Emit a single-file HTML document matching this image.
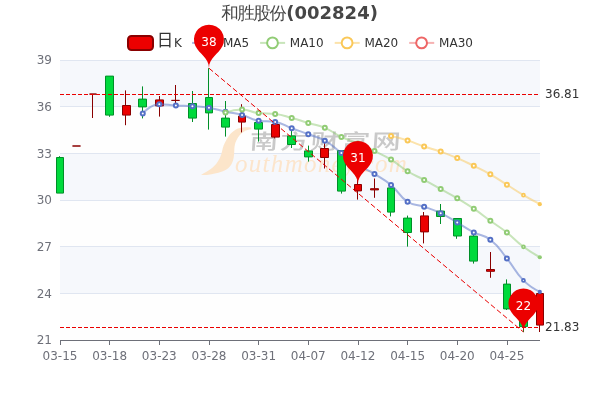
<!DOCTYPE html>
<html lang="zh-CN"><head><meta charset="utf-8"><title>和胜股份(002824)</title>
<style>html,body{margin:0;padding:0;background:#fff}body{width:600px;height:400px;overflow:hidden;position:relative}</style></head>
<body>
<svg width="600" height="400" viewBox="0 0 600 400" style="position:absolute;left:0;top:0;display:block">
<defs><clipPath id="g"><rect x="59" y="59" width="482" height="282"/></clipPath></defs>
<rect width="600" height="400" fill="#fff"/>
<rect x="60" y="60.00" width="480" height="46.67" fill="#f6f8fc"/>
<rect x="60" y="106.67" width="480" height="46.67" fill="#fefefe"/>
<rect x="60" y="153.33" width="480" height="46.67" fill="#f6f8fc"/>
<rect x="60" y="200.00" width="480" height="46.67" fill="#fefefe"/>
<rect x="60" y="246.67" width="480" height="46.67" fill="#f6f8fc"/>
<rect x="60" y="293.33" width="480" height="46.67" fill="#fefefe"/>
<path d="M60 60.5H540" stroke="#E0E6F1" stroke-width="1" fill="none"/>
<path d="M60 106.5H540" stroke="#E0E6F1" stroke-width="1" fill="none"/>
<path d="M60 153.5H540" stroke="#E0E6F1" stroke-width="1" fill="none"/>
<path d="M60 200.5H540" stroke="#E0E6F1" stroke-width="1" fill="none"/>
<path d="M60 246.5H540" stroke="#E0E6F1" stroke-width="1" fill="none"/>
<path d="M60 293.5H540" stroke="#E0E6F1" stroke-width="1" fill="none"/>
<g id="wm">
<path d="M201 174.9C205 172.6 207.5 171.2 210 169.5C213.5 167 215.8 164.6 217.5 162C219.3 159.3 220.4 157 221.2 154.5C221.9 152.3 222.2 150.5 222.7 148.5C223.2 146.4 223.9 144.6 225 142.5C226.2 140 227.6 137.5 229.5 135C231.2 132.9 233 131.2 235.5 129.7C237.8 128.4 240 127.8 243 127.5C245.5 127.3 248 127.3 251.2 127.5L251.2 129.3C248.5 129.7 246.5 130.2 244.5 131.2C242.4 132.3 240.7 133.8 239.2 135.7C237.7 137.7 236.4 139.9 235.5 142.5C234.7 144.9 234.4 147.3 234.3 150C234.2 152.6 234.2 155 233.7 157.5C233.2 160.2 232.4 162.7 231 165C229.6 167.2 227.6 168.9 225 170.2C222.2 171.6 219.3 172.5 216 173.2C213 173.9 210 174.5 207 174.9C205 175.1 203 175.1 201 174.9Z" fill="#fce5ca"/>
<text transform="translate(248.9,149.3) scale(1,0.72) skewX(-3)" font-family="'Noto Sans CJK SC','WenQuanYi Zen Hei',sans-serif" font-weight="500" font-size="29" letter-spacing="1.6" fill="#c9c9c9">南方财富网</text>
<text x="235" y="171.6" font-family="'Liberation Serif',serif" font-style="italic" font-size="25" letter-spacing="1.3" fill="#fce5cc">outhmoney.com</text>
</g>

<path d="M60 340.5H540" stroke="#6E7079" stroke-width="1" fill="none"/>
<path d="M60.5 340V345" stroke="#6E7079" stroke-width="1" fill="none"/>
<text x="60.00" y="359.6" text-anchor="middle" font-family="'DejaVu Sans','Liberation Sans',sans-serif" font-size="12" fill="#6E7079">03-15</text>
<path d="M109.5 340V345" stroke="#6E7079" stroke-width="1" fill="none"/>
<text x="109.66" y="359.6" text-anchor="middle" font-family="'DejaVu Sans','Liberation Sans',sans-serif" font-size="12" fill="#6E7079">03-18</text>
<path d="M159.5 340V345" stroke="#6E7079" stroke-width="1" fill="none"/>
<text x="159.31" y="359.6" text-anchor="middle" font-family="'DejaVu Sans','Liberation Sans',sans-serif" font-size="12" fill="#6E7079">03-23</text>
<path d="M209.5 340V345" stroke="#6E7079" stroke-width="1" fill="none"/>
<text x="208.97" y="359.6" text-anchor="middle" font-family="'DejaVu Sans','Liberation Sans',sans-serif" font-size="12" fill="#6E7079">03-28</text>
<path d="M258.5 340V345" stroke="#6E7079" stroke-width="1" fill="none"/>
<text x="258.62" y="359.6" text-anchor="middle" font-family="'DejaVu Sans','Liberation Sans',sans-serif" font-size="12" fill="#6E7079">03-31</text>
<path d="M308.5 340V345" stroke="#6E7079" stroke-width="1" fill="none"/>
<text x="308.28" y="359.6" text-anchor="middle" font-family="'DejaVu Sans','Liberation Sans',sans-serif" font-size="12" fill="#6E7079">04-07</text>
<path d="M358.5 340V345" stroke="#6E7079" stroke-width="1" fill="none"/>
<text x="357.93" y="359.6" text-anchor="middle" font-family="'DejaVu Sans','Liberation Sans',sans-serif" font-size="12" fill="#6E7079">04-12</text>
<path d="M407.5 340V345" stroke="#6E7079" stroke-width="1" fill="none"/>
<text x="407.59" y="359.6" text-anchor="middle" font-family="'DejaVu Sans','Liberation Sans',sans-serif" font-size="12" fill="#6E7079">04-15</text>
<path d="M457.5 340V345" stroke="#6E7079" stroke-width="1" fill="none"/>
<text x="457.24" y="359.6" text-anchor="middle" font-family="'DejaVu Sans','Liberation Sans',sans-serif" font-size="12" fill="#6E7079">04-20</text>
<path d="M507.5 340V345" stroke="#6E7079" stroke-width="1" fill="none"/>
<text x="506.90" y="359.6" text-anchor="middle" font-family="'DejaVu Sans','Liberation Sans',sans-serif" font-size="12" fill="#6E7079">04-25</text>
<text x="52" y="64.40" text-anchor="end" font-family="'DejaVu Sans','Liberation Sans',sans-serif" font-size="12" fill="#6E7079">39</text>
<text x="52" y="111.07" text-anchor="end" font-family="'DejaVu Sans','Liberation Sans',sans-serif" font-size="12" fill="#6E7079">36</text>
<text x="52" y="157.73" text-anchor="end" font-family="'DejaVu Sans','Liberation Sans',sans-serif" font-size="12" fill="#6E7079">33</text>
<text x="52" y="204.40" text-anchor="end" font-family="'DejaVu Sans','Liberation Sans',sans-serif" font-size="12" fill="#6E7079">30</text>
<text x="52" y="251.07" text-anchor="end" font-family="'DejaVu Sans','Liberation Sans',sans-serif" font-size="12" fill="#6E7079">27</text>
<text x="52" y="297.73" text-anchor="end" font-family="'DejaVu Sans','Liberation Sans',sans-serif" font-size="12" fill="#6E7079">24</text>
<text x="52" y="344.40" text-anchor="end" font-family="'DejaVu Sans','Liberation Sans',sans-serif" font-size="12" fill="#6E7079">21</text>
<path d="M56.5 157.50H63.5V193.10H56.5ZM59.5 156.20V157.50M59.5 193.10V193.10" fill="#00da3c" stroke="#008F28" stroke-width="1"/>
<path d="M72.5 146.00H80.5V146.00H72.5ZM76.5 146.00V146.00M76.5 146.00V146.00" fill="#ec0000" stroke="#8A0000" stroke-width="1"/>
<path d="M89.5 94.07H96.5V94.07H89.5ZM92.5 94.07V94.07M92.5 94.07V118.00" fill="#ec0000" stroke="#8A0000" stroke-width="1"/>
<path d="M105.5 76.10H113.5V115.10H105.5ZM109.5 76.10V76.10M109.5 115.10V116.80" fill="#00da3c" stroke="#008F28" stroke-width="1"/>
<path d="M122.5 105.50H130.5V115.10H122.5ZM125.5 90.40V105.50M125.5 115.10V125.20" fill="#ec0000" stroke="#8A0000" stroke-width="1"/>
<path d="M138.5 99.10H146.5V106.90H138.5ZM142.5 86.40V99.10M142.5 106.90V118.40" fill="#00da3c" stroke="#008F28" stroke-width="1"/>
<path d="M155.5 99.90H163.5V105.90H155.5ZM159.5 96.00V99.90M159.5 105.90V116.60" fill="#ec0000" stroke="#8A0000" stroke-width="1"/>
<path d="M171.5 100.40H179.5V100.40H171.5ZM175.5 85.00V100.40M175.5 100.40V103.00" fill="#ec0000" stroke="#8A0000" stroke-width="1"/>
<path d="M188.5 103.50H196.5V118.10H188.5ZM192.5 91.00V103.50M192.5 118.10V122.00" fill="#00da3c" stroke="#008F28" stroke-width="1"/>
<path d="M205.5 97.50H212.5V112.90H205.5ZM208.5 68.20V97.50M208.5 112.90V129.60" fill="#00da3c" stroke="#008F28" stroke-width="1"/>
<path d="M221.5 118.10H229.5V127.10H221.5ZM225.5 101.00V118.10M225.5 127.10V136.60" fill="#00da3c" stroke="#008F28" stroke-width="1"/>
<path d="M238.5 116.10H245.5V122.10H238.5ZM241.5 104.20V116.10M241.5 122.10V132.40" fill="#ec0000" stroke="#8A0000" stroke-width="1"/>
<path d="M254.5 122.50H262.5V129.10H254.5ZM258.5 119.00V122.50M258.5 129.10V141.60" fill="#00da3c" stroke="#008F28" stroke-width="1"/>
<path d="M271.5 124.50H279.5V137.10H271.5ZM274.5 121.60V124.50M274.5 137.10V138.40" fill="#ec0000" stroke="#8A0000" stroke-width="1"/>
<path d="M287.5 135.90H295.5V144.50H287.5ZM291.5 131.00V135.90M291.5 144.50V148.00" fill="#00da3c" stroke="#008F28" stroke-width="1"/>
<path d="M304.5 150.90H312.5V156.90H304.5ZM308.5 145.60V150.90M308.5 156.90V161.60" fill="#00da3c" stroke="#008F28" stroke-width="1"/>
<path d="M320.5 148.50H328.5V157.50H320.5ZM324.5 143.00V148.50M324.5 157.50V168.50" fill="#ec0000" stroke="#8A0000" stroke-width="1"/>
<path d="M337.5 150.50H345.5V191.10H337.5ZM341.5 150.50V150.50M341.5 191.10V193.60" fill="#00da3c" stroke="#008F28" stroke-width="1"/>
<path d="M354.5 184.50H361.5V190.90H354.5ZM357.5 180.00V184.50M357.5 190.90V199.60" fill="#ec0000" stroke="#8A0000" stroke-width="1"/>
<path d="M370.5 188.70H378.5V189.90H370.5ZM374.5 178.50V188.70M374.5 189.90V197.80" fill="#ec0000" stroke="#8A0000" stroke-width="1"/>
<path d="M387.5 187.90H394.5V212.10H387.5ZM390.5 186.00V187.90M390.5 212.10V216.40" fill="#00da3c" stroke="#008F28" stroke-width="1"/>
<path d="M403.5 218.10H411.5V232.50H403.5ZM407.5 215.60V218.10M407.5 232.50V246.60" fill="#00da3c" stroke="#008F28" stroke-width="1"/>
<path d="M420.5 215.90H428.5V231.90H420.5ZM423.5 212.00V215.90M423.5 231.90V243.40" fill="#ec0000" stroke="#8A0000" stroke-width="1"/>
<path d="M436.5 211.10H444.5V216.50H436.5ZM440.5 204.00V211.10M440.5 216.50V224.00" fill="#00da3c" stroke="#008F28" stroke-width="1"/>
<path d="M453.5 218.50H461.5V236.00H453.5ZM456.5 218.50V218.50M456.5 236.00V238.80" fill="#00da3c" stroke="#008F28" stroke-width="1"/>
<path d="M469.5 236.10H477.5V261.10H469.5ZM473.5 235.00V236.10M473.5 261.10V263.60" fill="#00da3c" stroke="#008F28" stroke-width="1"/>
<path d="M486.5 269.50H494.5V271.30H486.5ZM490.5 252.00V269.50M490.5 271.30V277.80" fill="#ec0000" stroke="#8A0000" stroke-width="1"/>
<path d="M503.5 284.10H510.5V308.90H503.5ZM506.5 279.40V284.10M506.5 308.90V310.00" fill="#00da3c" stroke="#008F28" stroke-width="1"/>
<path d="M519.5 302.50H527.5V326.60H519.5ZM523.5 300.00V302.50M523.5 326.60V332.00" fill="#00da3c" stroke="#008F28" stroke-width="1"/>
<path d="M536.5 293.50H543.5V325.10H536.5ZM539.5 292.00V293.50M539.5 325.10V332.00" fill="#ec0000" stroke="#8A0000" stroke-width="1"/>
<g clip-path="url(#g)">
<path d="M142.76 113.51C142.76 113.51 150.49 104.29 159.31 104.29C167.04 104.29 167.58 105.09 175.86 105.56C184.13 106.03 184.15 105.64 192.41 106.16C200.70 106.68 200.79 106.28 208.97 107.64C217.34 109.04 217.20 109.85 225.52 111.68C233.75 113.49 233.95 112.72 242.07 114.92C250.50 117.21 250.12 119.31 258.62 120.66C266.67 121.94 267.17 120.66 275.17 121.94C283.72 123.31 283.42 125.18 291.72 128.26C299.97 131.32 300.04 131.13 308.28 134.22C316.59 137.35 317.18 136.34 324.83 140.70C333.73 145.78 333.06 146.96 341.38 153.10C349.61 159.16 349.30 159.67 357.93 165.10C365.85 170.09 366.45 169.12 374.48 173.94C383.00 179.06 383.46 178.61 391.03 184.98C400.01 192.53 398.03 195.50 407.59 201.78C414.59 206.38 415.97 203.94 424.14 206.74C432.52 209.62 432.71 209.32 440.69 213.14C449.26 217.25 449.00 217.81 457.24 222.60C465.55 227.44 465.27 227.97 473.79 232.40C481.82 236.57 483.37 234.32 490.34 239.80C499.92 247.32 499.04 248.76 506.90 258.40C515.59 269.07 513.89 270.74 523.45 280.42C530.44 287.50 540.00 291.92 540.00 291.92" fill="none" stroke="#5470c6" stroke-width="2" stroke-opacity="0.5" stroke-linejoin="bevel"/>
<circle cx="142.76" cy="113.51" r="2" fill="#fff" stroke="#5470c6" stroke-width="2"/>
<circle cx="159.31" cy="104.29" r="2" fill="#fff" stroke="#5470c6" stroke-width="2"/>
<circle cx="175.86" cy="105.56" r="2" fill="#fff" stroke="#5470c6" stroke-width="2"/>
<circle cx="192.41" cy="106.16" r="2" fill="#fff" stroke="#5470c6" stroke-width="2"/>
<circle cx="208.97" cy="107.64" r="2" fill="#fff" stroke="#5470c6" stroke-width="2"/>
<circle cx="225.52" cy="111.68" r="2" fill="#fff" stroke="#5470c6" stroke-width="2"/>
<circle cx="242.07" cy="114.92" r="2" fill="#fff" stroke="#5470c6" stroke-width="2"/>
<circle cx="258.62" cy="120.66" r="2" fill="#fff" stroke="#5470c6" stroke-width="2"/>
<circle cx="275.17" cy="121.94" r="2" fill="#fff" stroke="#5470c6" stroke-width="2"/>
<circle cx="291.72" cy="128.26" r="2" fill="#fff" stroke="#5470c6" stroke-width="2"/>
<circle cx="308.28" cy="134.22" r="2" fill="#fff" stroke="#5470c6" stroke-width="2"/>
<circle cx="324.83" cy="140.70" r="2" fill="#fff" stroke="#5470c6" stroke-width="2"/>
<circle cx="341.38" cy="153.10" r="2" fill="#fff" stroke="#5470c6" stroke-width="2"/>
<circle cx="357.93" cy="165.10" r="2" fill="#fff" stroke="#5470c6" stroke-width="2"/>
<circle cx="374.48" cy="173.94" r="2" fill="#fff" stroke="#5470c6" stroke-width="2"/>
<circle cx="391.03" cy="184.98" r="2" fill="#fff" stroke="#5470c6" stroke-width="2"/>
<circle cx="407.59" cy="201.78" r="2" fill="#fff" stroke="#5470c6" stroke-width="2"/>
<circle cx="424.14" cy="206.74" r="2" fill="#fff" stroke="#5470c6" stroke-width="2"/>
<circle cx="440.69" cy="213.14" r="2" fill="#fff" stroke="#5470c6" stroke-width="2"/>
<circle cx="457.24" cy="222.60" r="2" fill="#fff" stroke="#5470c6" stroke-width="2"/>
<circle cx="473.79" cy="232.40" r="2" fill="#fff" stroke="#5470c6" stroke-width="2"/>
<circle cx="490.34" cy="239.80" r="2" fill="#fff" stroke="#5470c6" stroke-width="2"/>
<circle cx="506.90" cy="258.40" r="2" fill="#fff" stroke="#5470c6" stroke-width="2"/>
<circle cx="523.45" cy="280.42" r="1.5" fill="#fff" fill-opacity="0.6" stroke="#5470c6" stroke-width="1.7"/>
</g>
<circle cx="539.80" cy="291.92" r="2.1" fill="#5470c6"/>
<g clip-path="url(#g)">
<path d="M225.52 112.60C225.52 112.60 233.82 109.61 242.07 109.61C250.37 109.61 250.26 112.15 258.62 113.11C266.81 114.05 267.00 113.11 275.17 114.05C283.55 115.01 283.52 115.74 291.72 117.95C300.07 120.19 299.99 120.48 308.28 122.95C316.54 125.41 316.92 124.48 324.83 127.81C333.48 131.45 332.87 132.84 341.38 136.88C349.42 140.70 349.74 140.00 357.93 143.52C366.29 147.11 366.30 147.12 374.48 151.10C382.85 155.16 383.11 154.78 391.03 159.60C399.66 164.85 398.98 165.96 407.59 171.24C415.53 176.12 415.92 175.48 424.14 179.92C432.47 184.42 432.41 184.53 440.69 189.12C448.96 193.70 449.10 193.46 457.24 198.27C465.66 203.24 465.71 203.19 473.79 208.69C482.26 214.45 482.03 214.79 490.34 220.79C498.58 226.73 498.92 226.30 506.90 232.57C515.47 239.30 514.73 240.28 523.45 246.78C531.28 252.62 540.00 257.26 540.00 257.26" fill="none" stroke="#91cc75" stroke-width="2" stroke-opacity="0.5" stroke-linejoin="bevel"/>
<circle cx="225.52" cy="112.60" r="2" fill="#fff" stroke="#91cc75" stroke-width="2"/>
<circle cx="242.07" cy="109.61" r="2" fill="#fff" stroke="#91cc75" stroke-width="2"/>
<circle cx="258.62" cy="113.11" r="2" fill="#fff" stroke="#91cc75" stroke-width="2"/>
<circle cx="275.17" cy="114.05" r="2" fill="#fff" stroke="#91cc75" stroke-width="2"/>
<circle cx="291.72" cy="117.95" r="2" fill="#fff" stroke="#91cc75" stroke-width="2"/>
<circle cx="308.28" cy="122.95" r="2" fill="#fff" stroke="#91cc75" stroke-width="2"/>
<circle cx="324.83" cy="127.81" r="2" fill="#fff" stroke="#91cc75" stroke-width="2"/>
<circle cx="341.38" cy="136.88" r="2" fill="#fff" stroke="#91cc75" stroke-width="2"/>
<circle cx="357.93" cy="143.52" r="2" fill="#fff" stroke="#91cc75" stroke-width="2"/>
<circle cx="374.48" cy="151.10" r="2" fill="#fff" stroke="#91cc75" stroke-width="2"/>
<circle cx="391.03" cy="159.60" r="2" fill="#fff" stroke="#91cc75" stroke-width="2"/>
<circle cx="407.59" cy="171.24" r="2" fill="#fff" stroke="#91cc75" stroke-width="2"/>
<circle cx="424.14" cy="179.92" r="2" fill="#fff" stroke="#91cc75" stroke-width="2"/>
<circle cx="440.69" cy="189.12" r="2" fill="#fff" stroke="#91cc75" stroke-width="2"/>
<circle cx="457.24" cy="198.27" r="2" fill="#fff" stroke="#91cc75" stroke-width="2"/>
<circle cx="473.79" cy="208.69" r="2" fill="#fff" stroke="#91cc75" stroke-width="2"/>
<circle cx="490.34" cy="220.79" r="2" fill="#fff" stroke="#91cc75" stroke-width="2"/>
<circle cx="506.90" cy="232.57" r="2" fill="#fff" stroke="#91cc75" stroke-width="2"/>
<circle cx="523.45" cy="246.78" r="1.5" fill="#fff" fill-opacity="0.6" stroke="#91cc75" stroke-width="1.7"/>
</g>
<circle cx="539.80" cy="257.26" r="2.1" fill="#91cc75"/>
<g clip-path="url(#g)">
<path d="M391.03 136.10C391.03 136.10 399.44 137.86 407.59 140.42C415.99 143.07 415.78 143.70 424.14 146.52C432.34 149.28 432.53 148.73 440.69 151.58C449.08 154.52 449.07 154.60 457.24 158.11C465.62 161.71 465.59 161.81 473.79 165.82C482.14 169.90 482.28 169.69 490.34 174.30C498.83 179.15 498.62 179.51 506.90 184.72C515.17 189.94 515.02 190.20 523.45 195.15C531.57 199.92 540.00 204.18 540.00 204.18" fill="none" stroke="#fac858" stroke-width="2" stroke-opacity="0.5" stroke-linejoin="bevel"/>
<circle cx="391.03" cy="136.10" r="2" fill="#fff" stroke="#fac858" stroke-width="2"/>
<circle cx="407.59" cy="140.42" r="2" fill="#fff" stroke="#fac858" stroke-width="2"/>
<circle cx="424.14" cy="146.52" r="2" fill="#fff" stroke="#fac858" stroke-width="2"/>
<circle cx="440.69" cy="151.58" r="2" fill="#fff" stroke="#fac858" stroke-width="2"/>
<circle cx="457.24" cy="158.11" r="2" fill="#fff" stroke="#fac858" stroke-width="2"/>
<circle cx="473.79" cy="165.82" r="2" fill="#fff" stroke="#fac858" stroke-width="2"/>
<circle cx="490.34" cy="174.30" r="2" fill="#fff" stroke="#fac858" stroke-width="2"/>
<circle cx="506.90" cy="184.72" r="2" fill="#fff" stroke="#fac858" stroke-width="2"/>
<circle cx="523.45" cy="195.15" r="1.5" fill="#fff" fill-opacity="0.6" stroke="#fac858" stroke-width="1.7"/>
</g>
<circle cx="539.80" cy="204.18" r="2.1" fill="#fac858"/>
<path d="M60 94.5H540" stroke="#ea0000" stroke-width="1" stroke-dasharray="4 2" fill="none"/>
<path d="M60 327.5H540" stroke="#ea0000" stroke-width="1" stroke-dasharray="4 2" fill="none"/>
<path d="M208.97 68.2L523.45 332" stroke="#ea0000" stroke-width="1" stroke-dasharray="5.22 2.61" fill="none"/>
<text x="545" y="98.4" font-family="'DejaVu Sans','Liberation Sans',sans-serif" font-size="12" fill="#333">36.81</text>
<text x="545" y="331.4" font-family="'DejaVu Sans','Liberation Sans',sans-serif" font-size="12" fill="#333">21.83</text>
<rect x="128" y="36" width="25" height="14" rx="3.5" ry="3.5" fill="#ec0000" stroke="#8A0000" stroke-width="2"/>
<text x="158" y="47.4" font-family="'DejaVu Sans','Liberation Sans',sans-serif" font-size="12" fill="#333"><tspan font-family="'Noto Sans CJK SC','WenQuanYi Zen Hei',sans-serif" font-size="16.5" dx="-1.3" dy="-1.3">日</tspan><tspan dx="0.8" dy="1.3" font-family="'DejaVu Sans','Liberation Sans',sans-serif" font-size="12">K</tspan></text>
<path d="M192.1 42.9H217.1" stroke="#5470c6" stroke-width="2" stroke-opacity="0.5" fill="none"/>
<circle cx="204.5" cy="42.9" r="5.4" fill="#fff" stroke="#5470c6" stroke-width="2"/>
<text x="222.9" y="47.4" font-family="'DejaVu Sans','Liberation Sans',sans-serif" font-size="12" fill="#333">MA5</text>
<path d="M260.1 42.9H285.1" stroke="#91cc75" stroke-width="2" stroke-opacity="0.5" fill="none"/>
<circle cx="272.5" cy="42.9" r="5.4" fill="#fff" stroke="#91cc75" stroke-width="2"/>
<text x="289.8" y="47.4" font-family="'DejaVu Sans','Liberation Sans',sans-serif" font-size="12" fill="#333">MA10</text>
<path d="M334.7 42.9H359.7" stroke="#fac858" stroke-width="2" stroke-opacity="0.5" fill="none"/>
<circle cx="347.1" cy="42.9" r="5.4" fill="#fff" stroke="#fac858" stroke-width="2"/>
<text x="364.4" y="47.4" font-family="'DejaVu Sans','Liberation Sans',sans-serif" font-size="12" fill="#333">MA20</text>
<path d="M409.2 42.9H434.2" stroke="#ee6666" stroke-width="2" stroke-opacity="0.5" fill="none"/>
<circle cx="421.6" cy="42.9" r="5.4" fill="#fff" stroke="#ee6666" stroke-width="2"/>
<text x="439.1" y="47.4" font-family="'DejaVu Sans','Liberation Sans',sans-serif" font-size="12" fill="#333">MA30</text>
<text x="221.2" y="19.4" font-family="'WenQuanYi Zen Hei','Noto Sans CJK SC',sans-serif" font-size="17.5" letter-spacing="-1.5" fill="#464646">和胜股份</text>
<text x="286.3" y="19" font-family="'DejaVu Sans','Liberation Sans',sans-serif" font-size="18" font-weight="bold" fill="#464646">(002824)</text>
<path d="M195.41 46.06A15.00 15.00 0 1 1 222.52 46.06C218.66 54.19 208.97 57.70 208.97 68.20C208.97 57.70 199.27 54.19 195.41 46.06Z" fill="#ec0000"/>
<text x="208.97" y="45.90" text-anchor="middle" font-family="'DejaVu Sans','Liberation Sans',sans-serif" font-size="12" fill="#fff">38</text>
<path d="M344.38 162.36A15.00 15.00 0 1 1 371.48 162.36C367.63 170.49 357.93 174.00 357.93 184.50C357.93 174.00 348.24 170.49 344.38 162.36Z" fill="#ec0000"/>
<text x="357.93" y="162.20" text-anchor="middle" font-family="'DejaVu Sans','Liberation Sans',sans-serif" font-size="12" fill="#fff">31</text>
<path d="M509.90 309.86A15.00 15.00 0 1 1 537.00 309.86C533.14 317.99 523.45 321.50 523.45 332.00C523.45 321.50 513.75 317.99 509.90 309.86Z" fill="#ec0000"/>
<text x="523.45" y="309.70" text-anchor="middle" font-family="'DejaVu Sans','Liberation Sans',sans-serif" font-size="12" fill="#fff">22</text>
</svg>
</body></html>
